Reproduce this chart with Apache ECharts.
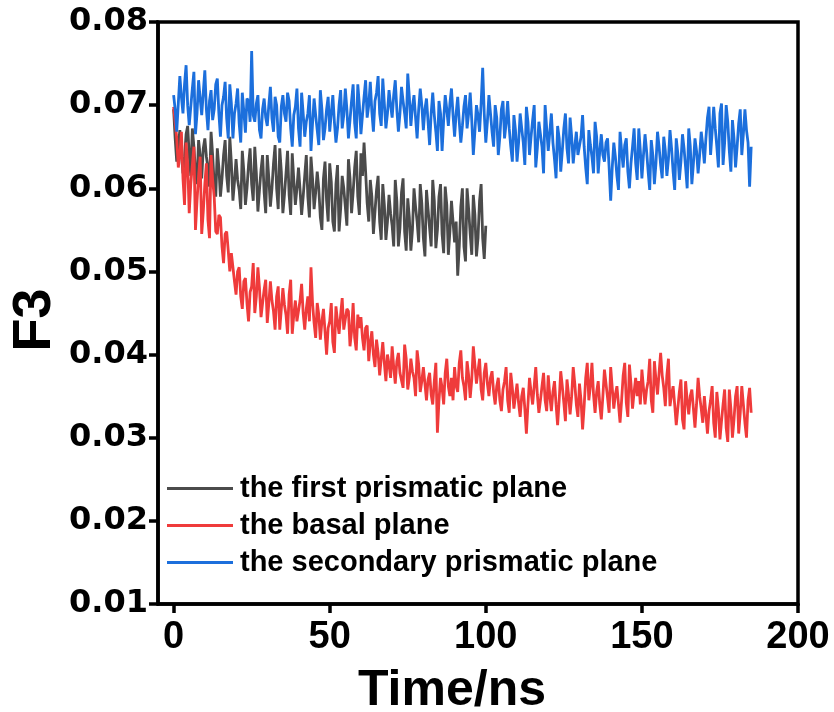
<!DOCTYPE html>
<html>
<head>
<meta charset="utf-8">
<script src="https://cdn.jsdelivr.net/npm/echarts@6/dist/echarts.min.js"></script>
<style>
  html, body { margin: 0; padding: 0; background: #fff; }
  #chart { width: 834px; height: 712px; }
</style>
</head>
<body>
<div id="chart"></div>
<script>
// Sampling step of all three runs, in ns
const timeStep = 0.5;
const xTicks = [0, 50, 100, 150, 200];
const yTicks = [0.01, 0.02, 0.03, 0.04, 0.05, 0.06, 0.07, 0.08];

const seriesNames = [
  'the first prismatic plane',
  'the basal plane',
  'the secondary prismatic plane'
];

// F3 of the first prismatic plane, t = 0..100 ns (one row = 10 ns)
const firstPrismatic = [
  0.0695, 0.0660, 0.0632, 0.0650, 0.0670, 0.0642, 0.0618, 0.0638, 0.0665, 0.0675, 0.0640, 0.0615, 0.0672, 0.0650, 0.0620, 0.0605, 0.0658, 0.0640, 0.0612, 0.0648,
  0.0660, 0.0638, 0.0625, 0.0602, 0.0668, 0.0640, 0.0605, 0.0590, 0.0648, 0.0625, 0.0590, 0.0612, 0.0640, 0.0658, 0.0615, 0.0595, 0.0662, 0.0630, 0.0585, 0.0608,
  0.0635, 0.0610, 0.0598, 0.0575, 0.0645, 0.0620, 0.0580, 0.0600, 0.0628, 0.0648, 0.0605, 0.0585, 0.0650, 0.0618, 0.0572, 0.0598, 0.0622, 0.0640, 0.0595, 0.0570,
  0.0640, 0.0612, 0.0578, 0.0600, 0.0630, 0.0652, 0.0600, 0.0575, 0.0648, 0.0620, 0.0570, 0.0592, 0.0618, 0.0645, 0.0592, 0.0568, 0.0642, 0.0610, 0.0580, 0.0600,
  0.0625, 0.0598, 0.0568, 0.0590, 0.0615, 0.0640, 0.0590, 0.0565, 0.0638, 0.0612, 0.0575, 0.0595, 0.0620, 0.0600, 0.0565, 0.0550, 0.0612, 0.0632, 0.0585, 0.0560,
  0.0630, 0.0608, 0.0560, 0.0548, 0.0605, 0.0628, 0.0548, 0.0575, 0.0615, 0.0600, 0.0578, 0.0555, 0.0635, 0.0612, 0.0570, 0.0595, 0.0625, 0.0645, 0.0590, 0.0568,
  0.0642, 0.0615, 0.0655, 0.0620, 0.0582, 0.0560, 0.0610, 0.0590, 0.0545, 0.0572, 0.0598, 0.0615, 0.0560, 0.0538, 0.0605, 0.0580, 0.0538, 0.0560, 0.0592, 0.0570,
  0.0555, 0.0530, 0.0610, 0.0585, 0.0530, 0.0552, 0.0595, 0.0612, 0.0548, 0.0525, 0.0588, 0.0565, 0.0525, 0.0550, 0.0600, 0.0578, 0.0560, 0.0535, 0.0605, 0.0582,
  0.0540, 0.0518, 0.0598, 0.0575, 0.0552, 0.0530, 0.0610, 0.0585, 0.0528, 0.0550, 0.0590, 0.0605, 0.0545, 0.0522, 0.0602, 0.0580, 0.0520, 0.0548, 0.0585, 0.0560,
  0.0535, 0.0560, 0.0495, 0.0530, 0.0578, 0.0600, 0.0530, 0.0512, 0.0600, 0.0575, 0.0545, 0.0520, 0.0592, 0.0568, 0.0518, 0.0540, 0.0585, 0.0605, 0.0540, 0.0515,
  0.0555
];

// F3 of the basal plane, t = 0..185 ns (one row = 10 ns)
const basal = [
  0.0698, 0.0680, 0.0660, 0.0625, 0.0640, 0.0668, 0.0612, 0.0580, 0.0655, 0.0630, 0.0570, 0.0605, 0.0628, 0.0650, 0.0550, 0.0585, 0.0615, 0.0638, 0.0545, 0.0572,
  0.0605, 0.0630, 0.0562, 0.0540, 0.0640, 0.0610, 0.0590, 0.0548, 0.0545, 0.0568, 0.0565, 0.0530, 0.0510, 0.0545, 0.0548, 0.0525, 0.0500, 0.0522, 0.0520, 0.0488,
  0.0472, 0.0500, 0.0505, 0.0470, 0.0455, 0.0488, 0.0492, 0.0462, 0.0440, 0.0475, 0.0482, 0.0510, 0.0450, 0.0470, 0.0505, 0.0480, 0.0445, 0.0462, 0.0478, 0.0490,
  0.0438, 0.0462, 0.0488, 0.0465, 0.0452, 0.0430, 0.0470, 0.0482, 0.0430, 0.0455, 0.0480, 0.0460, 0.0448, 0.0425, 0.0472, 0.0490, 0.0425, 0.0448, 0.0465, 0.0440,
  0.0440, 0.0465, 0.0485, 0.0450, 0.0430, 0.0455, 0.0470, 0.0440, 0.0505, 0.0462, 0.0438, 0.0420, 0.0462, 0.0448, 0.0418, 0.0440, 0.0455, 0.0428, 0.0400, 0.0432,
  0.0440, 0.0462, 0.0415, 0.0402, 0.0458, 0.0440, 0.0425, 0.0448, 0.0468, 0.0430, 0.0430, 0.0455, 0.0452, 0.0410, 0.0428, 0.0462, 0.0420, 0.0405, 0.0448, 0.0432,
  0.0445, 0.0420, 0.0405, 0.0432, 0.0435, 0.0392, 0.0415, 0.0428, 0.0400, 0.0385, 0.0418, 0.0402, 0.0375, 0.0395, 0.0415, 0.0390, 0.0368, 0.0400, 0.0388, 0.0372,
  0.0410, 0.0385, 0.0365, 0.0392, 0.0402, 0.0378, 0.0380, 0.0360, 0.0412, 0.0395, 0.0358, 0.0372, 0.0395, 0.0380, 0.0372, 0.0350, 0.0405, 0.0388, 0.0355, 0.0368,
  0.0385, 0.0365, 0.0345, 0.0370, 0.0378, 0.0352, 0.0340, 0.0368, 0.0390, 0.0306, 0.0345, 0.0372, 0.0360, 0.0340, 0.0378, 0.0395, 0.0362, 0.0350, 0.0372, 0.0345,
  0.0385, 0.0362, 0.0355, 0.0390, 0.0405, 0.0372, 0.0362, 0.0345, 0.0392, 0.0375, 0.0348, 0.0370, 0.0410, 0.0388, 0.0365, 0.0380, 0.0395, 0.0358, 0.0345, 0.0378,
  0.0390, 0.0365, 0.0350, 0.0372, 0.0380, 0.0355, 0.0340, 0.0362, 0.0372, 0.0345, 0.0332, 0.0358, 0.0368, 0.0385, 0.0345, 0.0330, 0.0378, 0.0360, 0.0335, 0.0350,
  0.0365, 0.0342, 0.0325, 0.0350, 0.0360, 0.0335, 0.0305, 0.0340, 0.0372, 0.0355, 0.0340, 0.0362, 0.0385, 0.0352, 0.0330, 0.0345, 0.0362, 0.0378, 0.0345, 0.0332,
  0.0375, 0.0350, 0.0332, 0.0355, 0.0368, 0.0340, 0.0315, 0.0345, 0.0380, 0.0362, 0.0342, 0.0320, 0.0370, 0.0352, 0.0328, 0.0350, 0.0385, 0.0365, 0.0340, 0.0325,
  0.0365, 0.0345, 0.0310, 0.0338, 0.0372, 0.0390, 0.0345, 0.0362, 0.0390, 0.0352, 0.0330, 0.0355, 0.0368, 0.0340, 0.0322, 0.0350, 0.0382, 0.0365, 0.0348, 0.0330,
  0.0385, 0.0360, 0.0335, 0.0352, 0.0362, 0.0340, 0.0318, 0.0345, 0.0375, 0.0390, 0.0342, 0.0325, 0.0388, 0.0365, 0.0335, 0.0355, 0.0372, 0.0350, 0.0368, 0.0340,
  0.0382, 0.0360, 0.0340, 0.0358, 0.0368, 0.0395, 0.0345, 0.0330, 0.0392, 0.0370, 0.0352, 0.0378, 0.0402, 0.0375, 0.0360, 0.0338, 0.0375, 0.0395, 0.0338, 0.0352,
  0.0362, 0.0340, 0.0315, 0.0335, 0.0355, 0.0370, 0.0322, 0.0310, 0.0368, 0.0345, 0.0328, 0.0350, 0.0358, 0.0335, 0.0312, 0.0340, 0.0372, 0.0350, 0.0335, 0.0318,
  0.0350, 0.0328, 0.0305, 0.0332, 0.0345, 0.0362, 0.0318, 0.0300, 0.0355, 0.0335, 0.0298, 0.0320, 0.0340, 0.0358, 0.0312, 0.0295, 0.0358, 0.0335, 0.0300, 0.0322,
  0.0350, 0.0362, 0.0305, 0.0330, 0.0362, 0.0340, 0.0318, 0.0300, 0.0345, 0.0360, 0.0330
];

// F3 of the secondary prismatic plane, t = 0..185 ns (one row = 10 ns)
const secondaryPrismatic = [
  0.0712, 0.0695, 0.0668, 0.0702, 0.0735, 0.0710, 0.0690, 0.0725, 0.0748, 0.0700, 0.0676, 0.0698, 0.0720, 0.0740, 0.0665, 0.0690, 0.0730, 0.0708, 0.0688, 0.0715,
  0.0742, 0.0695, 0.0670, 0.0705, 0.0718, 0.0682, 0.0695, 0.0725, 0.0732, 0.0690, 0.0662, 0.0700, 0.0710, 0.0728, 0.0684, 0.0660, 0.0725, 0.0702, 0.0660, 0.0690,
  0.0702, 0.0720, 0.0678, 0.0655, 0.0715, 0.0692, 0.0667, 0.0708, 0.0705, 0.0680, 0.0765, 0.0688, 0.0680, 0.0702, 0.0712, 0.0670, 0.0660, 0.0695, 0.0708, 0.0685,
  0.0675, 0.0700, 0.0722, 0.0684, 0.0668, 0.0710, 0.0700, 0.0662, 0.0655, 0.0698, 0.0712, 0.0690, 0.0680, 0.0715, 0.0705, 0.0672, 0.0650, 0.0688, 0.0698, 0.0720,
  0.0672, 0.0650, 0.0715, 0.0690, 0.0662, 0.0680, 0.0690, 0.0712, 0.0645, 0.0678, 0.0708, 0.0688, 0.0670, 0.0652, 0.0718, 0.0695, 0.0658, 0.0672, 0.0695, 0.0710,
  0.0668, 0.0690, 0.0712, 0.0680, 0.0655, 0.0672, 0.0700, 0.0718, 0.0672, 0.0688, 0.0720, 0.0695, 0.0660, 0.0682, 0.0705, 0.0725, 0.0678, 0.0660, 0.0725, 0.0700,
  0.0665, 0.0688, 0.0710, 0.0730, 0.0685, 0.0700, 0.0728, 0.0692, 0.0668, 0.0705, 0.0715, 0.0735, 0.0690, 0.0675, 0.0732, 0.0702, 0.0672, 0.0690, 0.0718, 0.0700,
  0.0685, 0.0712, 0.0730, 0.0695, 0.0668, 0.0690, 0.0722, 0.0705, 0.0690, 0.0672, 0.0738, 0.0710, 0.0675, 0.0698, 0.0712, 0.0685, 0.0660, 0.0695, 0.0720, 0.0700,
  0.0670, 0.0695, 0.0708, 0.0680, 0.0652, 0.0690, 0.0715, 0.0688, 0.0668, 0.0645, 0.0705, 0.0690, 0.0645, 0.0682, 0.0712, 0.0695, 0.0675, 0.0702, 0.0720, 0.0688,
  0.0662, 0.0690, 0.0710, 0.0680, 0.0655, 0.0675, 0.0698, 0.0712, 0.0672, 0.0690, 0.0715, 0.0682, 0.0640, 0.0668, 0.0700, 0.0688, 0.0668, 0.0702, 0.0745, 0.0690,
  0.0655, 0.0680, 0.0712, 0.0690, 0.0668, 0.0650, 0.0700, 0.0685, 0.0640, 0.0662, 0.0695, 0.0705, 0.0660, 0.0678, 0.0705, 0.0672, 0.0650, 0.0632, 0.0688, 0.0670,
  0.0632, 0.0655, 0.0690, 0.0672, 0.0655, 0.0628, 0.0698, 0.0680, 0.0640, 0.0662, 0.0682, 0.0700, 0.0625, 0.0648, 0.0680, 0.0665, 0.0650, 0.0618, 0.0700, 0.0672,
  0.0645, 0.0668, 0.0690, 0.0655, 0.0635, 0.0612, 0.0675, 0.0660, 0.0620, 0.0645, 0.0672, 0.0690, 0.0648, 0.0630, 0.0685, 0.0662, 0.0630, 0.0650, 0.0668, 0.0640,
  0.0640, 0.0662, 0.0688, 0.0650, 0.0625, 0.0605, 0.0670, 0.0652, 0.0638, 0.0618, 0.0680, 0.0662, 0.0618, 0.0645, 0.0665, 0.0640, 0.0632, 0.0655, 0.0660, 0.0625,
  0.0585, 0.0625, 0.0655, 0.0638, 0.0615, 0.0598, 0.0668, 0.0645, 0.0625, 0.0652, 0.0660, 0.0620, 0.0600, 0.0630, 0.0650, 0.0672, 0.0630, 0.0610, 0.0672, 0.0645,
  0.0612, 0.0640, 0.0665, 0.0645, 0.0620, 0.0598, 0.0658, 0.0640, 0.0605, 0.0630, 0.0668, 0.0650, 0.0628, 0.0612, 0.0662, 0.0645, 0.0615, 0.0635, 0.0670, 0.0648,
  0.0620, 0.0598, 0.0660, 0.0642, 0.0610, 0.0632, 0.0665, 0.0648, 0.0625, 0.0600, 0.0672, 0.0650, 0.0605, 0.0630, 0.0660, 0.0645, 0.0618, 0.0640, 0.0668, 0.0652,
  0.0630, 0.0660, 0.0685, 0.0698, 0.0640, 0.0668, 0.0698, 0.0672, 0.0650, 0.0625, 0.0690, 0.0702, 0.0628, 0.0655, 0.0700, 0.0680, 0.0645, 0.0620, 0.0682, 0.0660,
  0.0625, 0.0650, 0.0678, 0.0695, 0.0640, 0.0665, 0.0695, 0.0670, 0.0655, 0.0602, 0.0650
];

const colors = ['#4b4b4b', '#ef3b3b', '#1c6fdc'];

// pair each value with its time in ns
const withTime = arr => arr.map((v, i) => [i * timeStep, v]);

const chart = echarts.init(document.getElementById('chart'), null, { renderer: 'canvas' });

const labelFont = 'Liberation Sans, Arial, sans-serif';

chart.setOption({
  animation: false,
  backgroundColor: '#ffffff',
  color: colors,
  grid: {
    left: 158, right: 36, top: 22, bottom: 108,
    containLabel: false,
    outerBoundsMode: 'none',
    show: true,
    borderColor: '#000',
    borderWidth: 3.5,
    backgroundColor: 'transparent'
  },
  legend: {
    orient: 'vertical',
    left: 162,
    top: 469,
    data: seriesNames,
    icon: 'rect',
    itemWidth: 66,
    itemHeight: 3,
    itemGap: 8,
    textStyle: {
      fontFamily: labelFont,
      fontWeight: 'bold',
      fontSize: 29,
      color: '#000',
      lineHeight: 29,
      padding: [0, 0, 0, 2]
    }
  },
  xAxis: {
    type: 'value',
    min: -5,
    max: 200,
    name: 'Time/ns',
    nameLocation: 'middle',
    nameGap: 62,
    nameMoveOverlap: false,
    nameTextStyle: {
      fontFamily: labelFont,
      fontWeight: 'bold',
      fontSize: 50,
      color: '#000',
      padding: [0, 52, 0, 0]
    },
    axisLine: { show: true, onZero: false, lineStyle: { color: '#000', width: 3.5 } },
    axisTick: {
      show: true,
      customValues: xTicks,
      length: 9,
      inside: false,
      lineStyle: { color: '#000', width: 3.5 }
    },
    axisLabel: {
      customValues: xTicks,
      margin: 15,
      fontFamily: labelFont,
      fontWeight: 'bold',
      fontSize: 38,
      color: '#000'
    },
    splitLine: { show: false }
  },
  yAxis: {
    type: 'value',
    min: 0.01,
    max: 0.08,
    interval: 0.01,
    name: 'F3',
    nameLocation: 'middle',
    nameRotate: 90,
    nameGap: 96,
    nameMoveOverlap: false,
    nameTextStyle: {
      fontFamily: labelFont,
      fontWeight: 'bold',
      fontSize: 54,
      color: '#000',
      padding: [0, 14, 0, 0]
    },
    axisLine: { show: true, onZero: false, lineStyle: { color: '#000', width: 3.5 } },
    axisTick: {
      show: true,
      customValues: yTicks,
      length: 9,
      inside: false,
      lineStyle: { color: '#000', width: 3.5 }
    },
    axisLabel: {
      customValues: yTicks,
      margin: 10,
      fontFamily: 'DejaVu Sans, ' + labelFont,
      fontWeight: 'bold',
      fontSize: 32,
      color: '#000',
      formatter: v => v.toFixed(2)
    },
    splitLine: { show: false }
  },
  series: [
    {
      name: seriesNames[0],
      type: 'line',
      data: withTime(firstPrismatic),
      showSymbol: false,
      lineStyle: { width: 2.8, color: colors[0] },
      itemStyle: { color: colors[0] }
    },
    {
      name: seriesNames[1],
      type: 'line',
      data: withTime(basal),
      showSymbol: false,
      lineStyle: { width: 2.8, color: colors[1] },
      itemStyle: { color: colors[1] }
    },
    {
      name: seriesNames[2],
      type: 'line',
      data: withTime(secondaryPrismatic),
      showSymbol: false,
      lineStyle: { width: 2.8, color: colors[2] },
      itemStyle: { color: colors[2] }
    }
  ]
});
</script>
</body>
</html>
